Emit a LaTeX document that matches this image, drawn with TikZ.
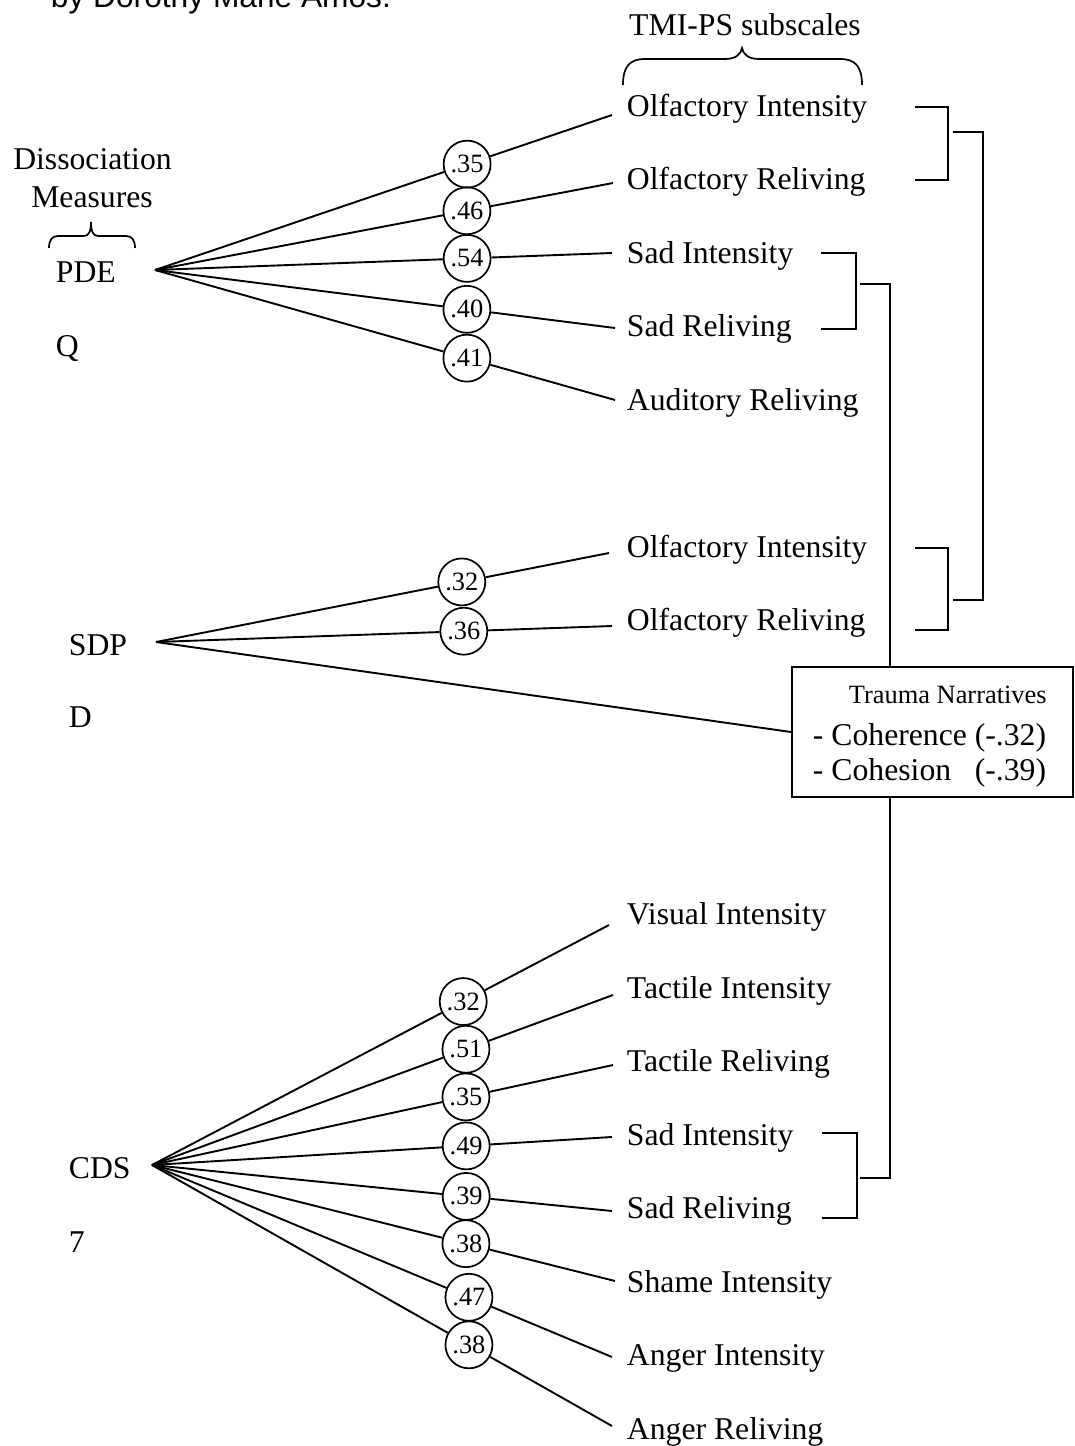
\documentclass[tikz,border=0pt]{standalone}
\usepackage{fontspec}
\setmainfont{Liberation Serif}
\newfontfamily\hdrfont{Liberation Sans}
\begin{document}
\begin{tikzpicture}[x=1pt,y=-1pt,line width=1.9pt,
  lbl/.style={inner sep=0pt,anchor=base west,font=\fontsize{31.7}{36}\selectfont},
  ctr/.style={inner sep=0pt,anchor=base,font=\fontsize{31.7}{36}\selectfont},
  circ/.style={draw,circle,minimum size=47pt,inner sep=0pt,line width=1.7pt,font=\fontsize{26.4}{30}\selectfont},
  small/.style={inner sep=0pt,anchor=base west,font=\fontsize{26.4}{30}\selectfont},
  conn/.style={line width=1.9pt},
  brk/.style={line width=1.9pt},
  brace/.style={line width=1.7pt}]
\useasboundingbox (0,0) rectangle (1075,1446);

% header (cut off)
\node[inner sep=0pt,anchor=base west,font=\hdrfont\fontsize{31.7}{36}\selectfont] (hdr) at (50,7) {by Dorothy Marie Amos.};

% column headings
\node[ctr] (tmi) at (745,35) {TMI-PS subscales};
\draw[brace] (623,85) .. controls (623,66) and (630,59) .. (645,59) -- (725,59) .. controls (736,59) and (741,54) .. (742,48) .. controls (743,54) and (748,59) .. (759,59) -- (840,59) .. controls (855,59) and (862,66) .. (862,85);
\node[ctr] (dis1) at (92.5,169) {Dissociation};
\node[ctr] (dis2) at (92,207) {Measures};
\draw[brace] (49,248) .. controls (49,240) and (52,236) .. (58,236) -- (84,236) .. controls (89,236) and (91,231) .. (91,222) .. controls (91,231) and (93,236) .. (98,236) -- (126,236) .. controls (132,236) and (135,240) .. (135,248);

% left measures
\node[lbl] (pde) at (55,282) {PDE};
\node[lbl] (q) at (55,356) {Q};
\node[lbl] (sdp) at (68,655) {SDP};
\node[lbl] (d) at (68,727) {D};
\node[lbl] (cds) at (68,1178) {CDS};
\node[lbl] (seven) at (68,1252) {7};
\coordinate (o1) at (155,270);
\coordinate (o2) at (156,642);
\coordinate (o3) at (152,1165);

% right labels
\node[lbl] (r1) at (626,116) {Olfactory Intensity};
\node[lbl] (r2) at (626,189.5) {Olfactory Reliving};
\node[lbl] (r3) at (626,263) {Sad Intensity};
\node[lbl] (r4) at (626,336.5) {Sad Reliving};
\node[lbl] (r5) at (626,410) {Auditory Reliving};
\node[lbl] (r6) at (626,557) {Olfactory Intensity};
\node[lbl] (r7) at (626,630.5) {Olfactory Reliving};
\node[lbl] (r8) at (626,924.5) {Visual Intensity};
\node[lbl] (r9) at (626,998) {Tactile Intensity};
\node[lbl] (r10) at (626,1071.5) {Tactile Reliving};
\node[lbl] (r11) at (626,1145) {Sad Intensity};
\node[lbl] (r12) at (626,1218.5) {Sad Reliving};
\node[lbl] (r13) at (626,1292) {Shame Intensity};
\node[lbl] (r14) at (626,1365.5) {Anger Intensity};
\node[lbl] (r15) at (626,1439) {Anger Reliving};

% line end points
\coordinate (e1) at (612,115);
\coordinate (e2) at (613,183);
\coordinate (e3) at (612,253);
\coordinate (e4) at (615,328);
\coordinate (e5) at (615,400);
\coordinate (e6) at (609,553);
\coordinate (e7) at (612,626);
\coordinate (e8) at (609,925);
\coordinate (e9) at (613,995);
\coordinate (e10) at (613,1065);
\coordinate (e11) at (612,1137);
\coordinate (e12) at (612,1211);
\coordinate (e13) at (615,1281);
\coordinate (e14) at (612,1357);
\coordinate (e15) at (612,1426);

% circles
\path (o1) -- (e1) node[circ,pos=0.683] (c1) {.35};
\path (o1) -- (e2) node[circ,pos=0.681] (c2) {.46};
\path (o1) -- (e3) node[circ,pos=0.683] (c3) {.54};
\path (o1) -- (e4) node[circ,pos=0.678] (c4) {.40};
\path (o1) -- (e5) node[circ,pos=0.678] (c5) {.41};
\path (o2) -- (e6) node[circ,pos=0.675] (c6) {.32};
\path (o2) -- (e7) node[circ,pos=0.675] (c7) {.36};
\path (o3) -- (e8) node[circ,pos=0.681] (c8) {.32};
\path (o3) -- (e9) node[circ,pos=0.681] (c9) {.51};
\path (o3) -- (e10) node[circ,pos=0.681] (c10) {.35};
\path (o3) -- (e11) node[circ,pos=0.683] (c11) {.49};
\path (o3) -- (e12) node[circ,pos=0.683] (c12) {.39};
\path (o3) -- (e13) node[circ,pos=0.678] (c13) {.38};
\path (o3) -- (e14) node[circ,pos=0.689] (c14) {.47};
\path (o3) -- (e15) node[circ,pos=0.689] (c15) {.38};

% connectors
\foreach \i in {1,...,5} {\draw[conn] (o1) -- (c\i) -- (e\i);}
\foreach \i in {6,7} {\draw[conn] (o2) -- (c\i) -- (e\i);}
\foreach \i in {8,...,15} {\draw[conn] (o3) -- (c\i) -- (e\i);}

% trauma narratives box
\node[draw,line width=1.9pt,minimum width=281pt,minimum height=130pt,inner sep=0pt] (tn) at (932.5,732) {};
\node[small] (tnt) at (848,703) {Trauma Narratives};
\node[lbl] (coh1) at (812,745) {- Coherence};
\node[lbl,anchor=base east] (coh1v) at (1047,745) {(-.32)};
\node[lbl] (coh2) at (812,780) {- Cohesion};
\node[lbl,anchor=base east] (coh2v) at (1047,780) {(-.39)};
\draw[conn] (o2) -- (tn.west);

% brackets
\draw[brk] (915,107) -- (948,107) -- (948,180) -- (915,180);
\draw[brk] (915,548) -- (948,548) -- (948,630) -- (915,630);
\draw[brk] (953,132) -- (983,132) -- (983,600) -- (953,600);
\draw[brk] (821,253) -- (856,253) -- (856,329) -- (821,329);
\draw[brk] (822,1133) -- (857,1133) -- (857,1218) -- (822,1218);
\coordinate (vt) at (890,284);
\coordinate (vb) at (890,1178);
\draw[brk] (860,284) -- (vt) -- (vt |- tn.north);
\draw[brk] (vb |- tn.south) -- (vb) -- (860,1178);
\end{tikzpicture}
\end{document}
